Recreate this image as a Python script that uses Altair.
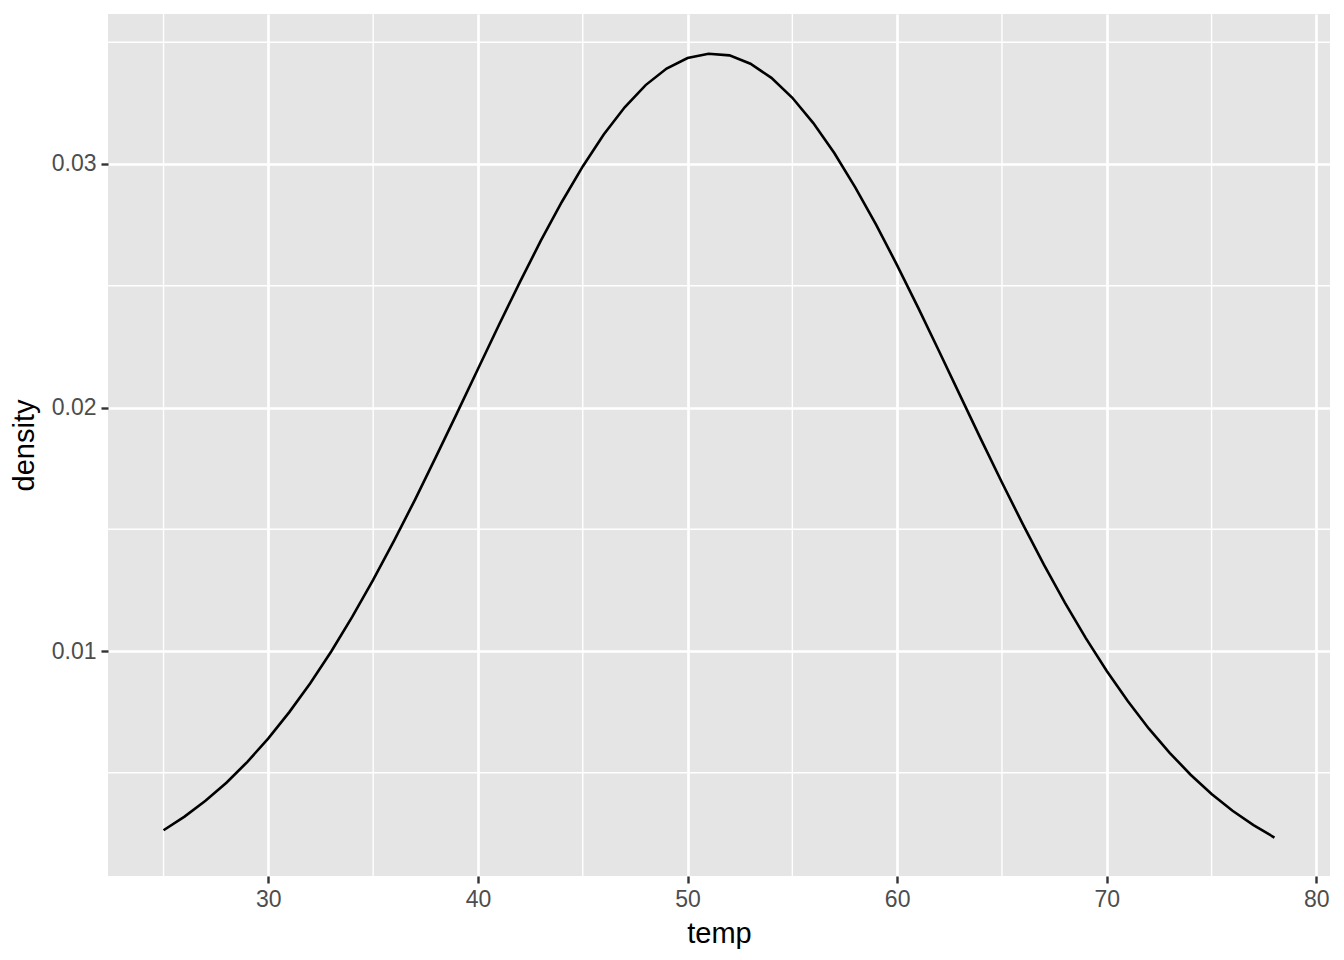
import altair as alt
import pandas as pd

temp = list(range(25, 79))
density = [
    0.00264, 0.00320, 0.00385, 0.00459, 0.00545, 0.00641, 0.00749, 0.00868, 0.00998, 0.01140,
    0.01292, 0.01453, 0.01622, 0.01798, 0.01977, 0.02158, 0.02339, 0.02515, 0.02685, 0.02844,
    0.02990, 0.03121, 0.03233, 0.03324, 0.03392, 0.03435, 0.03453, 0.03446, 0.03412, 0.03354,
    0.03272, 0.03168, 0.03045, 0.02904, 0.02750, 0.02584, 0.02410, 0.02231, 0.02050, 0.01869,
    0.01692, 0.01520, 0.01355, 0.01199, 0.01053, 0.00918, 0.00795, 0.00682, 0.00582, 0.00492,
    0.00413, 0.00344, 0.00285, 0.00234,
]
x_major = [30, 40, 50, 60, 70, 80]
x_minor = [25, 35, 45, 55, 65, 75]
y_major = [0.01, 0.02, 0.03]
y_minor = [0.005, 0.015, 0.025, 0.035]

df = pd.DataFrame({"temp": temp, "density": density})
xm = pd.DataFrame({"temp": x_minor})
ym = pd.DataFrame({"density": y_minor})

xscale = alt.Scale(domain=[22.35, 80.65], nice=False, zero=False)
yscale = alt.Scale(domain=[0.00076, 0.03616], nice=False, zero=False)

xaxis = alt.Axis(values=x_major, title="temp", format="d", labelPadding=5, titlePadding=8)
yaxis = alt.Axis(values=y_major, title="density", format=".2f", labelPadding=5, titlePadding=12)

minor_x = alt.Chart(xm).mark_rule(color="white", strokeWidth=1.4).encode(
    x=alt.X("temp:Q", scale=xscale, axis=xaxis)
)
minor_y = alt.Chart(ym).mark_rule(color="white", strokeWidth=1.4).encode(
    y=alt.Y("density:Q", scale=yscale, axis=yaxis)
)
line = alt.Chart(df).mark_line(color="black", strokeWidth=2.6).encode(
    x=alt.X("temp:Q", scale=xscale, axis=xaxis),
    y=alt.Y("density:Q", scale=yscale, axis=yaxis),
)

chart = (
    alt.layer(minor_x, minor_y, line)
    .properties(
        width=1222,
        height=862,
        autosize=alt.AutoSizeParams(type="none"),
        padding={"left": 100, "top": 6, "right": 6, "bottom": 80},
        background="white",
    )
    .configure_view(fill="#E5E5E5", stroke=None)
    .configure_axis(
        domain=False,
        grid=True,
        gridColor="white",
        gridWidth=2.7,
        tickColor="#333333",
        tickWidth=2.4,
        tickSize=7,
        labelFont="Liberation Sans",
        labelFontSize=23,
        labelColor="#4D4D4D",
        titleFont="Liberation Sans",
        titleFontSize=29,
        titleFontWeight="normal",
        titleColor="black",
    )
)

chart.save("out.html", embed_options={"renderer": "svg", "actions": False})
